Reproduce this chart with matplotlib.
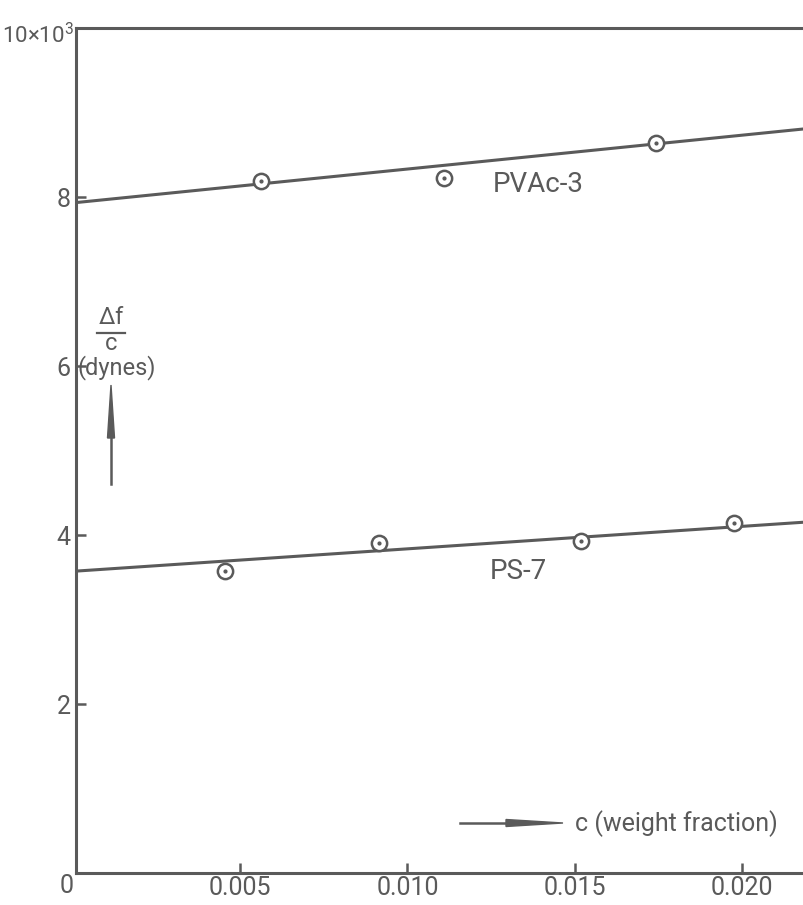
import matplotlib
matplotlib.use("Agg")
import matplotlib.pyplot as plt
from matplotlib.patches import Polygon
from matplotlib.lines import Line2D

plt.rcParams['font.family'] = ['Roboto', 'DejaVu Sans']
plt.rcParams['mathtext.default'] = 'regular'

# measured points (c = weight fraction, delta f / c in dynes)
pvac_c = [0.00563, 0.01109, 0.01742]
pvac_y = [8190, 8230, 8640]
ps_c = [0.00455, 0.00915, 0.01518, 0.01975]
ps_y = [3574, 3905, 3929, 4142]

# straight-line fits, given by their end points
fit_c = [0.0, 0.0225]
pvac_fit = [7930, 8832]
ps_fit = [3570, 4169]

xticks = [0.005, 0.010, 0.015, 0.020]
xticklabels = ["0.005", "0.010", "0.015", "0.020"]
yticks = [2000, 4000, 6000, 8000]
yticklabels = ["2", "4", "6", "8"]

ink = '#5a5a5a'
W, H = 804, 905
fs = 18

fig = plt.figure(figsize=(W / 100, H / 100), dpi=100)
fig.patch.set_facecolor('white')

def px(x, y):
    return (x / W, 1 - y / H)

# axes run off the right edge of the sheet
ax = fig.add_axes([76 / W, 32 / H, 750 / W, 845 / H])
ax.set_xlim(0.0001, 0.0225)
ax.set_ylim(0, 10000)

for s in ['left', 'bottom', 'top']:
    ax.spines[s].set_color(ink)
    ax.spines[s].set_linewidth(2.2)
ax.spines['right'].set_visible(False)

ax.plot(fit_c, pvac_fit, color=ink, lw=2.2, solid_capstyle='butt', zorder=2)
ax.plot(fit_c, ps_fit, color=ink, lw=2.2, solid_capstyle='butt', zorder=2)

for cs, ys in [(pvac_c, pvac_y), (ps_c, ps_y)]:
    ax.plot(cs, ys, 'o', ms=11, mfc='white', mec=ink, mew=1.8, zorder=3)
    ax.plot(cs, ys, 'o', ms=2, color=ink, zorder=4)

ax.set_xticks(xticks)
ax.set_xticklabels(xticklabels)
ax.set_yticks(yticks)
ax.set_yticklabels(yticklabels)
ax.tick_params(direction='in', length=7, width=1.8, color=ink,
               labelcolor=ink, labelsize=fs)
ax.tick_params(axis='x', pad=2)
ax.tick_params(axis='y', pad=4)

# corner labels
fig.text(*px(67, 886), "0", color=ink, fontsize=fs, ha='center', va='center')
fig.text(*px(74, 36), r"10$\times$10$^{3}$", color=ink, fontsize=fs - 2,
         ha='right', va='center')

# curve labels
ax.text(0.01255, 8150, "PVAc-3", color=ink, fontsize=fs + 2, ha='left',
        va='center')
ax.text(0.01245, 3570, "PS-7", color=ink, fontsize=fs + 2, ha='left',
        va='center')

# y axis quantity, written as a fraction
fs_q = fs - 1
fig.text(*px(111, 318), r"$\Delta$f", color=ink, fontsize=fs_q,
         ha='center', va='center')
fig.add_artist(Line2D([px(97, 0)[0], px(125, 0)[0]],
                      [px(0, 333)[1], px(0, 333)[1]], color=ink, lw=1.6))
fig.text(*px(111, 343), "c", color=ink, fontsize=fs_q, ha='center',
         va='center')
fig.text(*px(117, 368), "(dynes)", color=ink, fontsize=fs_q,
         ha='center', va='center')

# vertical arrow with long tapered head
fig.add_artist(Line2D([px(111, 0)[0]] * 2, [px(0, 484)[1], px(0, 436)[1]],
                      color=ink, lw=1.8))
fig.add_artist(Polygon([px(107.5, 438), px(114.5, 438), px(111, 385)],
                       closed=True, color=ink, transform=fig.transFigure))

# horizontal arrow next to the x quantity
fig.add_artist(Line2D([px(460, 0)[0], px(510, 0)[0]],
                      [px(0, 823)[1]] * 2, color=ink, lw=1.8))
fig.add_artist(Polygon([px(506, 819.5), px(506, 826.5), px(563, 823)],
                       closed=True, color=ink, transform=fig.transFigure))
fig.text(*px(575, 824), "c (weight fraction)", color=ink, fontsize=fs,
         ha='left', va='center')

plt.savefig("out.png", dpi=100)
plt.close()
